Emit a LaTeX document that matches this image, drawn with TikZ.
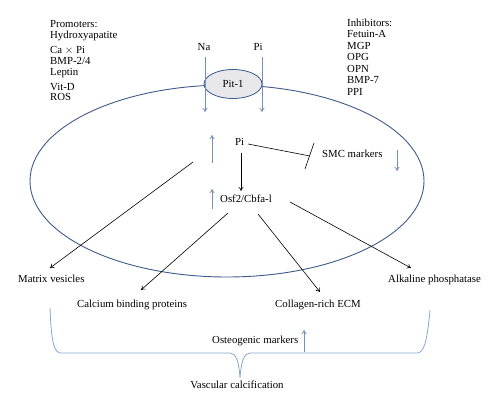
\documentclass[tikz,border=0pt]{standalone}
\usepackage{fontspec}
\setmainfont{Liberation Serif}
\usetikzlibrary{arrows.meta,shapes.geometric}
\definecolor{cellblue}{HTML}{3E5A88}
\definecolor{arrblue}{HTML}{7590B4}
\definecolor{braceblue}{HTML}{86A6CC}
\definecolor{pitfill}{HTML}{E8E8EC}
\tikzset{
  lbl/.style={inner sep=0pt, font=\fontsize{10.8}{12}\selectfont},
  bw/.style={lbl, anchor=base west},
  flow/.style={draw=black, line width=0.6pt, -{To[length=4pt,width=5pt]}},
  bluearr/.style={draw=arrblue, line width=0.8pt, -{To[length=4pt,width=5pt]}},
}
\begin{document}
\begin{tikzpicture}[x=1pt,y=-1pt]
\useasboundingbox (0,0) rectangle (500,406);
% cell
\draw[cellblue, line width=0.9pt] (227,181) ellipse [x radius=197, y radius=96];
\node[draw=cellblue, fill=pitfill, line width=0.8pt, ellipse, minimum width=58pt, minimum height=29pt, inner sep=0pt] (pit) at (233,84) {};
\node[lbl, anchor=base] (pitlbl) at (233,87.5) {Pit-1};
% promoters
\node[bw] (p0) at (50,27.5) {Promoters:};
\node[bw] (p1) at (50,38.3) {Hydroxyapatite};
\node[bw] (p2) at (50,53.3) {Ca $\times$ Pi};
\node[bw] (p3) at (50,64.3) {BMP-2/4};
\node[bw] (p4) at (50,75.7) {Leptin};
\node[bw] (p5) at (50,90.5) {Vit-D};
\node[bw] (p6) at (50,101) {ROS};
% inhibitors
\node[bw] (i0) at (347,27) {Inhibitors:};
\node[bw] (i1) at (347,38) {Fetuin-A};
\node[bw] (i2) at (347,49.3) {MGP};
\node[bw] (i3) at (347,60.7) {OPG};
\node[bw] (i4) at (347,72.3) {OPN};
\node[bw] (i5) at (347,83.5) {BMP-7};
\node[bw] (i6) at (347,95.5) {PPI};
% other texts
\node[lbl, anchor=base] (na) at (204,51) {Na};
\node[lbl, anchor=base] (pio) at (258,51) {Pi};
\node[bw] (pi) at (235,146) {Pi};
\node[bw] (osf) at (220,202) {Osf2/Cbfa-l};
\node[bw] (smc) at (322,158) {SMC markers};
\node[bw] (mv) at (18,282) {Matrix vesicles};
\node[bw] (cbp) at (77,307) {Calcium binding proteins};
\node[bw] (ecm) at (275,307) {Collagen-rich ECM};
\node[bw] (alp) at (388,282) {Alkaline phosphatase};
\node[bw] (ost) at (212,343) {Osteogenic markers};
\node[lbl, anchor=base] (vc) at (237,388) {Vascular calcification};
% transport arrows
\coordinate (naS) at (205,57); \coordinate (naE) at (205,112);
\coordinate (piS) at (262,57); \coordinate (piE) at (262,112);
\draw[bluearr] (naS) -- (naE);
\draw[bluearr] (piS) -- (piE);
% blue up/down markers
\coordinate (u1a) at (212,163); \coordinate (u1b) at (212,135);
\draw[bluearr] (u1a) -- (u1b);
\coordinate (u2a) at (212,209); \coordinate (u2b) at (212,189);
\draw[bluearr] (u2a) -- (u2b);
\coordinate (d1a) at (397,150); \coordinate (d1b) at (397,171);
\draw[bluearr] (d1a) -- (d1b);
\coordinate (u3a) at (304,352); \coordinate (u3b) at (304,330);
\draw[bluearr] (u3a) -- (u3b);
% inhibition
\coordinate (ts) at (248,144);
\coordinate (tb) at (310,156);
\coordinate (tbA) at (314,143);
\coordinate (tbB) at (305,169);
\draw[line width=0.6pt] (ts) -- (tb);
\draw[line width=0.6pt] (tbA) -- (tbB);
% Pi -> Osf2
\coordinate (pd1) at (241,153);
\coordinate (pd2) at (241,191);
\draw[flow] (pd1) -- (pd2);
% outputs
\coordinate (s1) at (193,162);
\coordinate (s2) at (228,213);
\coordinate (s3) at (258,214);
\coordinate (s4) at (290,202);
\coordinate (e1) at (50,268);
\coordinate (e2) at (141,290);
\coordinate (e3) at (320,292);
\coordinate (e4) at (411,268);
\draw[flow] (s1) -- (e1);
\draw[flow] (s2) -- (e2);
\draw[flow] (s3) -- (e3);
\draw[flow] (s4) -- (e4);
% brace
\draw[braceblue, line width=0.8pt] (50,308) .. controls (51,330) and (52,352) .. (60,353)
  -- (230,353) .. controls (236,353) and (239,362) .. (240,378)
  .. controls (241,362) and (244,353) .. (250,353)
  -- (418,353) .. controls (426,352) and (428,330) .. (430,310);
\end{tikzpicture}
\end{document}
